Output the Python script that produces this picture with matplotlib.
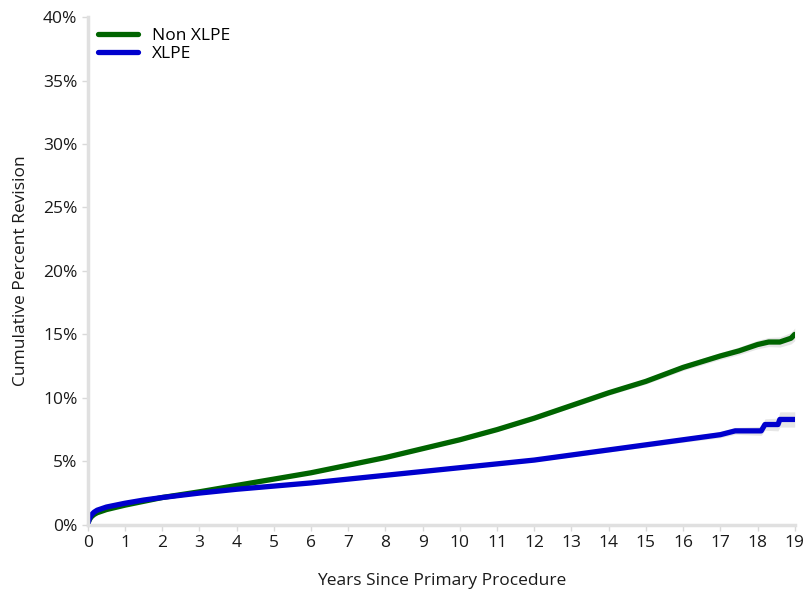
import matplotlib.pyplot as plt
import numpy as np

plt.rcParams['font.family'] = ['Open Sans', 'DejaVu Sans']

# Non XLPE
years_non = [0, 0.02, 0.05, 0.1, 0.17, 0.25, 0.5, 1, 1.5, 2, 3, 4, 5, 6, 7, 8, 9, 10, 11, 12,
             13, 14, 15, 16, 17, 17.5, 18, 18.3, 18.6, 18.9, 19]
cpr_non = [0, 0.25, 0.45, 0.65, 0.82, 0.95, 1.2, 1.55, 1.85, 2.15, 2.6, 3.1, 3.6, 4.1, 4.7, 5.3,
           6.0, 6.7, 7.5, 8.4, 9.4, 10.4, 11.3, 12.4, 13.3, 13.7, 14.2, 14.4, 14.4, 14.7, 15.0]
ci_non = [0, 0.02, 0.03, 0.04, 0.05, 0.05, 0.05, 0.05, 0.05, 0.05, 0.06, 0.06, 0.07, 0.08, 0.09,
          0.1, 0.11, 0.12, 0.13, 0.15, 0.17, 0.19, 0.21, 0.24, 0.27, 0.3, 0.33, 0.36, 0.4, 0.45, 0.5]

# XLPE
years_x = [0, 0.02, 0.05, 0.1, 0.17, 0.25, 0.5, 1, 1.5, 2, 3, 4, 5, 6, 7, 8, 9, 10, 11, 12,
           13, 14, 15, 16, 17, 17.4, 18.1, 18.2, 18.55, 18.6, 19]
cpr_x = [0, 0.3, 0.55, 0.8, 1.0, 1.15, 1.4, 1.7, 1.95, 2.15, 2.5, 2.8, 3.05, 3.3, 3.6, 3.9, 4.2,
         4.5, 4.8, 5.1, 5.5, 5.9, 6.3, 6.7, 7.1, 7.4, 7.4, 7.9, 7.9, 8.3, 8.3]
ci_x = [0, 0.02, 0.03, 0.04, 0.04, 0.04, 0.04, 0.04, 0.04, 0.04, 0.05, 0.05, 0.06, 0.06, 0.07,
        0.08, 0.09, 0.1, 0.11, 0.12, 0.14, 0.16, 0.18, 0.2, 0.24, 0.27, 0.35, 0.45, 0.5, 0.6, 0.6]

fig = plt.figure(figsize=(8.06, 5.89), dpi=100)
ax = fig.add_axes([0.109, 0.109, 0.877, 0.862])

lo = np.array(cpr_non) - np.array(ci_non)
hi = np.array(cpr_non) + np.array(ci_non)
ax.fill_between(years_non, lo, hi, color='#e6e6e6', lw=0)
lo = np.array(cpr_x) - np.array(ci_x)
hi = np.array(cpr_x) + np.array(ci_x)
ax.fill_between(years_x, lo, hi, color='#e6e6e6', lw=0)

ax.plot(years_non, cpr_non, color='#006400', lw=3.8, label='Non XLPE', solid_capstyle='round')
ax.plot(years_x, cpr_x, color='#0000cd', lw=3.8, label='XLPE', solid_capstyle='round')

ax.set_xlim(0, 19)
ax.set_ylim(0, 40)
ax.set_xticks(range(0, 20))
ax.set_yticks(range(0, 41, 5))
ax.set_yticklabels([f'{v}%' for v in range(0, 41, 5)])
ax.tick_params(labelsize=12.5, colors='#d9d9d9', labelcolor='#1a1a1a', length=4, width=1)

for s in ['top', 'right']:
    ax.spines[s].set_visible(False)
for s in ['left', 'bottom']:
    ax.spines[s].set_color('#e0e0e0')
    ax.spines[s].set_linewidth(2.5)

ax.set_xlabel('Years Since Primary Procedure', fontsize=12.5, color='#1a1a1a', labelpad=16)
ax.set_ylabel('Cumulative Percent Revision', fontsize=12.5, color='#1a1a1a', labelpad=10)

ax.legend(loc='upper left', frameon=False, fontsize=12.5, handlelength=2.3,
          borderaxespad=0.2, labelspacing=0.15, bbox_to_anchor=(0.0, 1.0))

plt.savefig('out.png', dpi=100)
